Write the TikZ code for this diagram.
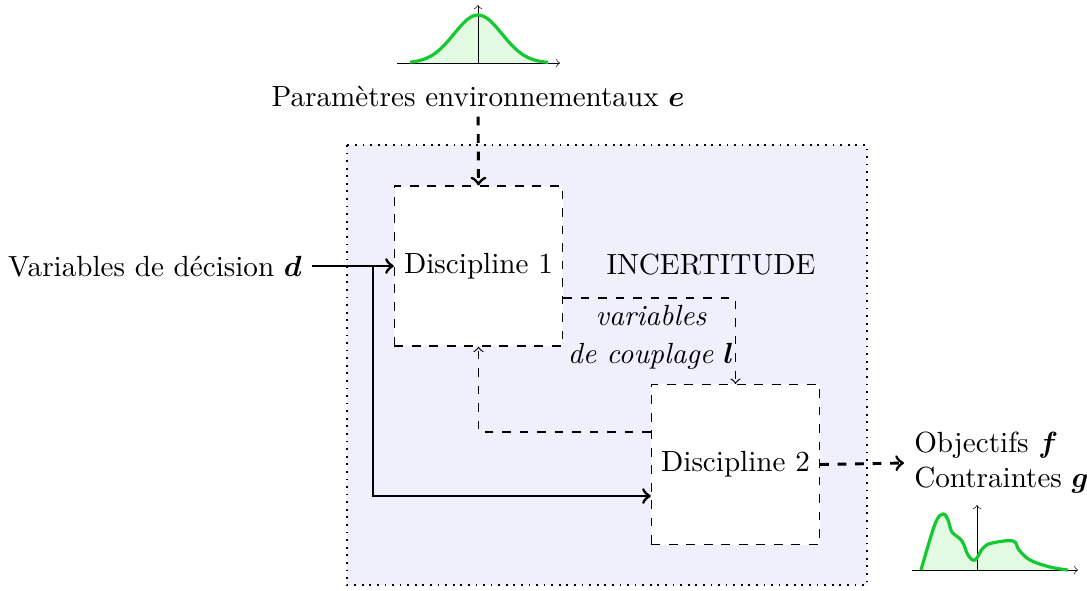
\documentclass[tikz,border=0pt]{standalone}
\usepackage{bm}
\usetikzlibrary{calc}

\definecolor{fondbleu}{RGB}{240,240,252}
\definecolor{vertcourbe}{RGB}{20,200,50}
\definecolor{vertfond}{RGB}{225,250,225}

\tikzset{
    discipline/.style={draw, dashed, fill=white, minimum width=57.3pt, minimum height=54.9pt},
    couplage/.style={dashed, ->},
    entree/.style={line width=1pt, ->},
    sortie/.style={line width=1pt, dashed, ->},
    courbe/.style={vertcourbe, line width=1.1pt},
    axe/.style={very thin, ->, >=to},
}

\begin{document}
\begin{tikzpicture}[x=0.343pt, y=-0.343pt]
            \useasboundingbox (0,0) rectangle (1087,590);

            \draw[semithick, dotted, fill=fondbleu] (347,145) rectangle (867,585);

            \node[discipline] (d1) at (478.5,266) {Discipline 1};
            \node[discipline] (d2) at (735.5,464.5) {Discipline 2};
            \node at (711,265) {INCERTITUDE};

            \draw[couplage] ($(d1.east)+(0,32)$) -| (d2.north);
            \draw[couplage] ($(d2.west)+(0,-32.5)$) -| (d1.south);
            \node[align=center, font=\itshape] (cl) at (651,337) {variables\\[1pt] de couplage $\bm{l}$};

            \node (dv) at (155,267) {Variables de d\'ecision $\bm{d}$};
            \coordinate (br) at (373,266);
            \draw[entree] (dv.east |- d1.west) -- (d1.west);
            \draw[entree] (br) |- ($(d2.west)+(0,31.5)$);

            \node (pe) at (478,96) {Param\`etres environnementaux $\bm{e}$};
            \draw[sortie] (pe) -- (d1.north);

            \node[anchor=west, align=left] (og) at (904,463) {Objectifs $\bm{f}$\\Contraintes $\bm{g}$};
            \draw[sortie] (d2.east) -- (og.west);

            % loi des parametres
            \fill[vertfond] (410,63) -- plot[domain=410:548, samples=60] (\x, {63-48*exp(-((\x-478)/24)^2/2)}) -- (548,63) -- cycle;
            \draw[axe] (397,63) -- (560,63);
            \draw[axe] (478,63) -- (478,5);
            \draw[courbe] plot[domain=410:548, samples=60] (\x, {63-48*exp(-((\x-478)/24)^2/2)});

            % loi des sorties
            \def\sorties{(921,570) (935,524) (943,514) (948,520) (952,532) (962,541) (968,555) (975,560) (983,548) (992,543) (1013,541) (1019,550) (1030,560) (1050,567) (1068,570)}
            \fill[vertfond] plot[smooth, tension=0.6] coordinates \sorties -- cycle;
            \draw[axe] (912,570) -- (1078,570);
            \draw[axe] (977,570) -- (977,505);
            \draw[courbe] plot[smooth, tension=0.6] coordinates \sorties;

        \end{tikzpicture}
\end{document}
